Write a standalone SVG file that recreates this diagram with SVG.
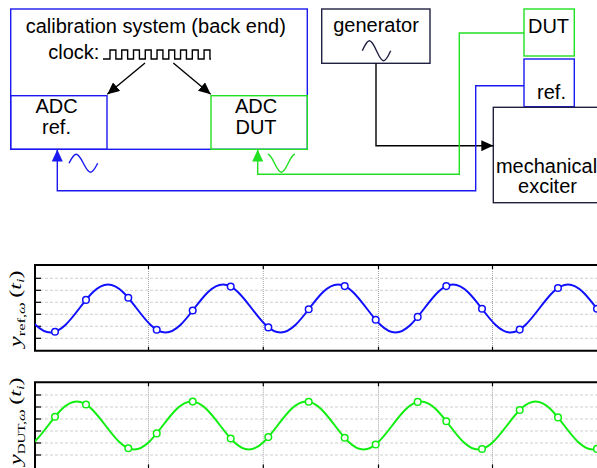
<svg xmlns="http://www.w3.org/2000/svg" width="597" height="468" viewBox="0 0 597 468">
<style>
  .lbl { font-family: "Liberation Sans", Arial, sans-serif; font-size: 20px; fill: #000; text-anchor: middle; }
  .blue { fill: none; stroke: #1a1af0; stroke-width: 1.4; }
  .green { fill: none; stroke: #22e022; stroke-width: 1.4; }
  .navy { fill: none; stroke: #202040; stroke-width: 1.4; }
  .blk { fill: none; stroke: #000; stroke-width: 1.4; }
  .frame { fill: none; stroke: #000; stroke-width: 2; }
  .hg { stroke: #c4c4c4; stroke-width: 0.8; stroke-dasharray: 3 2; }
  .vg { stroke: #8c8c8c; stroke-width: 0.8; stroke-dasharray: 1 1; }
  .tk { stroke: #000; stroke-width: 1.2; }
  .ylab { font-family: "Liberation Serif", "Times New Roman", serif; font-size: 16px; fill: #000; }
  .cb { fill: none; stroke: #1010ff; stroke-width: 2; }
  .cg { fill: none; stroke: #10ee10; stroke-width: 2; }
  .mb { fill: #fff; stroke: #1010ff; stroke-width: 1.5; }
  .mg { fill: #fff; stroke: #10ee10; stroke-width: 1.5; }
</style>
<defs>
  <marker id="ahK" viewBox="0 0 12 11" refX="12" refY="5.5" markerWidth="12" markerHeight="11" markerUnits="userSpaceOnUse" orient="auto"><path d="M0,0 L12,5.5 L0,11 z" fill="#000"/></marker>
  <marker id="ahB" viewBox="0 0 12 11" refX="12" refY="5.5" markerWidth="12" markerHeight="11" markerUnits="userSpaceOnUse" orient="auto"><path d="M0,0 L12,5.5 L0,11 z" fill="#1a1af0"/></marker>
  <marker id="ahG" viewBox="0 0 12 11" refX="12" refY="5.5" markerWidth="12" markerHeight="11" markerUnits="userSpaceOnUse" orient="auto"><path d="M0,0 L12,5.5 L0,11 z" fill="#22e022"/></marker>
  <clipPath id="clipTop"><rect x="35" y="262" width="565" height="92"/></clipPath>
  <clipPath id="clipBot"><rect x="35" y="380" width="565" height="92"/></clipPath>
</defs>
<rect width="597" height="468" fill="#fff"/>

<g id="calibration-system">
  <rect x="10.7" y="9" width="296.6" height="140.3" class="blue"/>
  <text class="lbl" x="155.8" y="32.5">calibration system (back end)</text>
  <text class="lbl" x="48.3" y="59.3" style="text-anchor:start">clock:</text>
  <path class="blk" stroke-width="2" d="M103,59 H110 V50 H115.88 V59 H121.76 V50 H127.64 V59 H133.52 V50 H139.4 V59 H145.28 V50 H151.16 V59 H157.04 V50 H162.92 V59 H168.8 V50 H174.68 V59 H180.56 V50 H186.44 V59 H192.32 V50 H198.2 V59 H204.08 V50 H209.96 V59 H211"/>
</g>
<g id="adc-ref">
  <rect x="10.7" y="95.7" width="96.3" height="53.6" class="blue"/>
  <text class="lbl" x="56.5" y="113.3">ADC</text>
  <text class="lbl" x="56.5" y="134">ref.</text>
</g>
<g id="adc-dut">
  <rect x="211" y="95.7" width="96.3" height="53.6" class="green"/>
  <text class="lbl" x="256" y="113.3">ADC</text>
  <text class="lbl" x="256" y="134">DUT</text>
</g>
<g id="generator">
  <rect x="321.7" y="9" width="108.3" height="54.3" class="navy"/>
  <text class="lbl" x="376" y="31.7">generator</text>
  <path class="navy" stroke-width="2" d="M362.3,50.7 C364.62,45.58 366.83,40.7 369.4,40.7 C371.97,40.7 374.18,45.58 376.5,50.7 C378.82,55.82 381.03,60.7 383.6,60.7 C386.17,60.7 388.38,55.82 390.7,50.7"/>
</g>
<g id="dut">
  <rect x="524" y="9" width="50.3" height="47" class="green"/>
  <text class="lbl" x="548.5" y="32.7">DUT</text>
</g>
<g id="ref">
  <rect x="524" y="59" width="50.3" height="47.7" class="blue"/>
  <text class="lbl" x="551.5" y="99">ref.</text>
</g>
<g id="mechanical-exciter">
  <rect x="493.3" y="107.3" width="120" height="95.4" class="navy"/>
  <text class="lbl" x="546.5" y="173.3">mechanical</text>
  <text class="lbl" x="547.5" y="193.3">exciter</text>
</g>

<g id="connectors">
  <line class="blk" x1="145" y1="63" x2="107.3" y2="94.3" marker-end="url(#ahK)"/>
  <line class="blk" x1="173.3" y1="63" x2="210.7" y2="94.3" marker-end="url(#ahK)"/>
  <path class="blk" d="M376,63.3 V145.7 H493.3" marker-end="url(#ahK)"/>
  <path class="green" d="M524,33 H459.3 V174.3 H257.7 V149.5" marker-end="url(#ahG)"/>
  <path class="blue" d="M524,85.7 H475.7 V190.7 H57.3 V149.5" marker-end="url(#ahB)"/>
  <path class="blue" stroke-width="2" d="M69,163.3 C71.34,158.69 73.58,154.3 76.18,154.3 C78.78,154.3 81.01,158.69 83.35,163.3 C85.69,167.91 87.930,172.3 90.53,172.3 C93.13,172.3 95.36,167.91 97.7,163.3"/>
  <path class="green" stroke-width="2" d="M267.7,154.3 C272.67,154.3 276.38,172.3 281.35,172.3 S290.03,154.3 295,154.3"/>
</g>

<g id="plot-ref">
  <g class="hg">
    <line x1="35" y1="278.3" x2="597" y2="278.3"/>
    <line x1="35" y1="290.3" x2="597" y2="290.3"/>
    <line x1="35" y1="302.3" x2="597" y2="302.3"/>
    <line x1="35" y1="314.3" x2="597" y2="314.3"/>
    <line x1="35" y1="326.3" x2="597" y2="326.3"/>
    <line x1="35" y1="338.3" x2="597" y2="338.3"/>
  </g>
  <g class="vg">
    <line x1="148.5" y1="265" x2="148.5" y2="350.7"/>
    <line x1="263.3" y1="265" x2="263.3" y2="350.7"/>
    <line x1="378.5" y1="265" x2="378.5" y2="350.7"/>
    <line x1="492.5" y1="265" x2="492.5" y2="350.7"/>
  </g>
  <g class="tk">
    <line x1="35" y1="278.3" x2="41" y2="278.3"/>
    <line x1="35" y1="290.3" x2="41" y2="290.3"/>
    <line x1="35" y1="302.3" x2="41" y2="302.3"/>
    <line x1="35" y1="314.3" x2="41" y2="314.3"/>
    <line x1="35" y1="326.3" x2="41" y2="326.3"/>
    <line x1="35" y1="338.3" x2="41" y2="338.3"/>
    <line x1="148.5" y1="265" x2="148.5" y2="269"/><line x1="148.5" y1="346.7" x2="148.5" y2="350.7"/>
    <line x1="263.3" y1="265" x2="263.3" y2="269"/><line x1="263.3" y1="346.7" x2="263.3" y2="350.7"/>
    <line x1="378.5" y1="265" x2="378.5" y2="269"/><line x1="378.5" y1="346.7" x2="378.5" y2="350.7"/>
    <line x1="492.5" y1="265" x2="492.5" y2="269"/><line x1="492.5" y1="346.7" x2="492.5" y2="350.7"/>
  </g>
  <path class="frame" d="M598,265 H35 V350.7 H598"/>
  <g clip-path="url(#clipTop)">
    <path class="cb" d="M-7,284.5 C13.94,284.5 29.56,332.5 50.5,332.5 S87.06,284.5 108,284.5 S144.56,332.5 165.5,332.5 S202.06,284.5 223,284.5 S259.56,332.5 280.5,332.5 S317.06,284.5 338,284.5 S374.56,332.5 395.5,332.5 S432.06,284.5 453,284.5 S489.56,332.5 510.5,332.5 S547.06,284.5 568,284.5 S604.56,332.5 625.5,332.5"/>
    <g class="mb">
      <circle cx="55" cy="331.8" r="3.3"/>
      <circle cx="86" cy="299.9" r="3.3"/>
      <circle cx="128.3" cy="297.8" r="3.3"/>
      <circle cx="156.7" cy="329.7" r="3.3"/>
      <circle cx="192.7" cy="310.5" r="3.3"/>
      <circle cx="230.7" cy="286.6" r="3.3"/>
      <circle cx="268.3" cy="327.4" r="3.3"/>
      <circle cx="308.7" cy="309.2" r="3.3"/>
      <circle cx="344.7" cy="286.1" r="3.3"/>
      <circle cx="375.7" cy="319.8" r="3.3"/>
      <circle cx="417.7" cy="316.9" r="3.3"/>
      <circle cx="446.3" cy="286.1" r="3.3"/>
      <circle cx="482" cy="308.8" r="3.3"/>
      <circle cx="519.7" cy="329.6" r="3.3"/>
      <circle cx="558" cy="288" r="3.3"/>
      <circle cx="597" cy="308.8" r="3.3"/>
    </g>
  </g>
  <text class="ylab" transform="translate(21,347) rotate(-90) scale(1.5,1)"><tspan font-style="italic">y</tspan><tspan font-size="11" dy="4">ref,</tspan><tspan font-size="11" font-style="italic">ω</tspan><tspan dx="3" dy="-4">(</tspan><tspan font-style="italic">t</tspan><tspan font-size="11" font-style="italic" dy="3">i</tspan><tspan dy="-3">)</tspan></text>
</g>

<g id="plot-dut">
  <g class="hg">
    <line x1="35" y1="395" x2="597" y2="395"/>
    <line x1="35" y1="407" x2="597" y2="407"/>
    <line x1="35" y1="419" x2="597" y2="419"/>
    <line x1="35" y1="431" x2="597" y2="431"/>
    <line x1="35" y1="443" x2="597" y2="443"/>
    <line x1="35" y1="455" x2="597" y2="455"/>
  </g>
  <g class="vg">
    <line x1="148.5" y1="382.3" x2="148.5" y2="470"/>
    <line x1="263.3" y1="382.3" x2="263.3" y2="470"/>
    <line x1="378.5" y1="382.3" x2="378.5" y2="470"/>
    <line x1="492.5" y1="382.3" x2="492.5" y2="470"/>
  </g>
  <g class="tk">
    <line x1="35" y1="395" x2="41" y2="395"/>
    <line x1="35" y1="407" x2="41" y2="407"/>
    <line x1="35" y1="419" x2="41" y2="419"/>
    <line x1="35" y1="431" x2="41" y2="431"/>
    <line x1="35" y1="443" x2="41" y2="443"/>
    <line x1="35" y1="455" x2="41" y2="455"/>
    <line x1="148.5" y1="382.3" x2="148.5" y2="386.3"/><line x1="148.5" y1="464.5" x2="148.5" y2="470"/>
    <line x1="263.3" y1="382.3" x2="263.3" y2="386.3"/><line x1="263.3" y1="464.5" x2="263.3" y2="470"/>
    <line x1="378.5" y1="382.3" x2="378.5" y2="386.3"/><line x1="378.5" y1="464.5" x2="378.5" y2="470"/>
    <line x1="492.5" y1="382.3" x2="492.5" y2="386.3"/><line x1="492.5" y1="464.5" x2="492.5" y2="470"/>
  </g>
  <path class="frame" d="M598,382.3 H35 V470"/>
  <g clip-path="url(#clipBot)">
    <path class="cg" d="M19.45,449.5 C40.34,449.5 55.91,401.5 76.8,401.5 S113.26,449.5 134.15,449.5 S170.61,401.5 191.5,401.5 S227.96,449.5 248.85,449.5 S285.31,401.5 306.2,401.5 S342.66,449.5 363.55,449.5 S400.01,401.5 420.9,401.5 S457.36,449.5 478.25,449.5 S514.71,401.5 535.6,401.5 S572.06,449.5 592.95,449.5 S629.41,401.5 650.3,401.5"/>
    <g class="mg">
      <circle cx="55" cy="416.7" r="3.3"/>
      <circle cx="86" cy="404.5" r="3.3"/>
      <circle cx="128.3" cy="448.3" r="3.3"/>
      <circle cx="156.7" cy="433.4" r="3.3"/>
      <circle cx="192.7" cy="401.6" r="3.3"/>
      <circle cx="230.7" cy="438.5" r="3.3"/>
      <circle cx="268.3" cy="437.1" r="3.3"/>
      <circle cx="308.7" cy="401.7" r="3.3"/>
      <circle cx="344.7" cy="437.8" r="3.3"/>
      <circle cx="375.7" cy="444.5" r="3.3"/>
      <circle cx="417.7" cy="401.9" r="3.3"/>
      <circle cx="446.3" cy="421.2" r="3.3"/>
      <circle cx="482" cy="449" r="3.3"/>
      <circle cx="519.7" cy="410" r="3.3"/>
      <circle cx="558" cy="417.4" r="3.3"/>
      <circle cx="597" cy="448.9" r="3.3"/>
    </g>
  </g>
  <text class="ylab" transform="translate(21,465) rotate(-90) scale(1.5,1)"><tspan font-style="italic">y</tspan><tspan font-size="10" dy="4">DUT,</tspan><tspan font-size="11" font-style="italic">ω</tspan><tspan dx="3" dy="-4">(</tspan><tspan font-style="italic">t</tspan><tspan font-size="11" font-style="italic" dy="3">i</tspan><tspan dy="-3">)</tspan></text>
</g>
</svg>
